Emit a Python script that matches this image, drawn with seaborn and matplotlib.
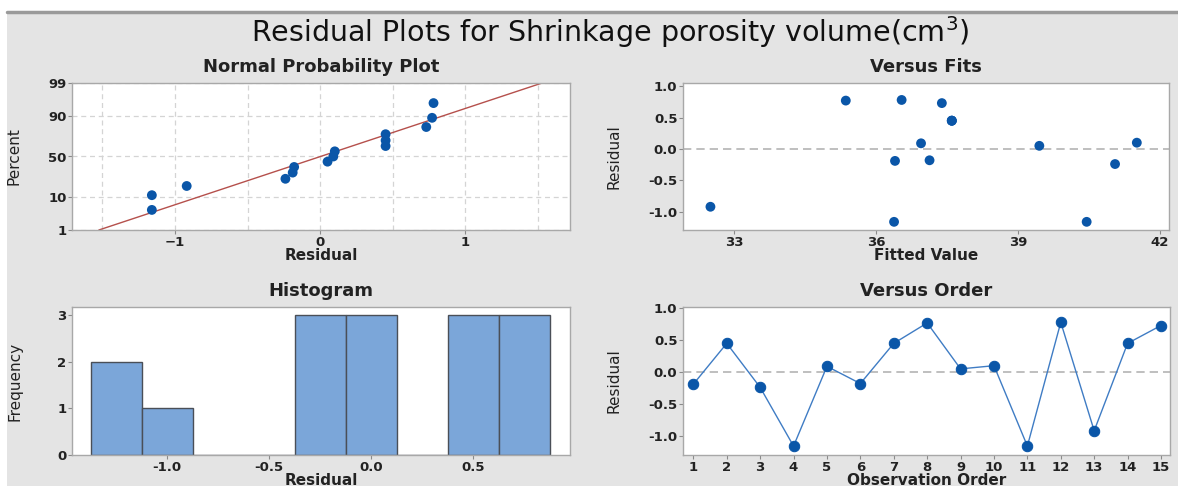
import numpy as np
import pandas as pd
import matplotlib
matplotlib.use("Agg")
import matplotlib.pyplot as plt
import seaborn as sns
from statistics import NormalDist
from matplotlib.ticker import MultipleLocator

# residuals in observation order and the matching fitted values
order = list(range(1, 16))
residual = [-0.19, 0.45, -0.24, -1.16, 0.09, -0.18, 0.45, 0.77, 0.05, 0.10,
            -1.16, 0.78, -0.92, 0.45, 0.73]
fitted = [36.40, 37.60, 41.05, 36.38, 36.95, 37.13, 37.60, 35.36, 39.45, 41.51,
          40.45, 36.54, 32.50, 37.60, 37.39]

percent_ticks = [1, 10, 50, 90, 99]
fit_ticks = [33, 36, 39, 42]
hist_ticks = [-1.0, -0.5, 0.0, 0.5]
resid_ticks = [-1.0, -0.5, 0.0, 0.5, 1.0]

df = pd.DataFrame({"order": order, "residual": residual, "fitted": fitted})

sns.set_style("white")
plt.rcParams["font.family"] = ["DejaVu Sans"]

BG = "#e4e4e4"
BLUE = "#0a56a8"
TXT = "#222222"
W, H = 1178, 486

fig = plt.figure(figsize=(W / 100, H / 100), dpi=100, facecolor=BG)

# white strip + rule at the very top (page above the screenshot)
fig.patches.append(plt.Rectangle((0, 1 - 11 / H), 1, 11 / H, transform=fig.transFigure,
                                 facecolor="white", edgecolor="none", zorder=0))
fig.patches.append(plt.Rectangle((0, 0), 7 / W, 1, transform=fig.transFigure,
                                 facecolor="white", edgecolor="none", zorder=0))
fig.lines.append(plt.Line2D([7 / W, 1], [1 - 12 / H, 1 - 12 / H], transform=fig.transFigure,
                            color="#9a9a9a", lw=2.5))

fig.text(610 / W, 1 - 32 / H, "Residual Plots for Shrinkage porosity volume(cm$^3$)",
         ha="center", va="center", fontsize=20.5, color="#111111")


def box(x0, y0, x1, y1):
    return fig.add_axes([x0 / W, 1 - y1 / H, (x1 - x0) / W, (y1 - y0) / H])


ax1 = box(72, 83, 570, 230)
ax2 = box(683, 83, 1169, 230)
ax3 = box(72, 307, 570, 455)
ax4 = box(683, 307, 1170, 455)


def style(ax, title, xlabel, ylabel):
    ax.set_facecolor("white")
    for s in ax.spines.values():
        s.set_color("#a8a8a8")
        s.set_linewidth(1.0)
    ax.set_title(title, fontsize=13, fontweight="bold", color=TXT, pad=8)
    ax.set_xlabel(xlabel, fontsize=11, fontweight="bold", color=TXT)
    ax.set_ylabel(ylabel, fontsize=11, color=TXT,
                  family=["Liberation Sans Narrow", "DejaVu Sans"])
    ax.tick_params(axis="both", which="major", length=3, width=0.8, color="#8a8a8a",
                   labelsize=9.5, labelcolor=TXT, pad=1, bottom=True, left=True)


# --- Normal probability plot ---
nd = NormalDist()
res_sorted = np.sort(np.array(residual))
n = len(res_sorted)
pct = (np.arange(1, n + 1) - 0.3) / (n + 0.4)
zq = np.array([nd.inv_cdf(p) for p in pct])
mu, sd = np.mean(residual), np.std(residual, ddof=1)
zlo, zhi = nd.inv_cdf(0.01), nd.inv_cdf(0.99)
line_z = np.array([zlo, zhi])
sns.lineplot(x=mu + sd * line_z, y=line_z, sort=False, color="#b5504c", lw=1.0, ax=ax1)
sns.scatterplot(x=res_sorted, y=zq, color=BLUE, s=50, edgecolor="none", ax=ax1, zorder=3)
ax1.set_xlim(-1.71, 1.72)
ax1.set_ylim(zlo, zhi)
ax1.set_yticks([nd.inv_cdf(p / 100) for p in percent_ticks])
ax1.set_yticklabels([str(p) for p in percent_ticks])
ax1.set_xticks([-1, 0, 1])
ax1.xaxis.set_minor_locator(MultipleLocator(0.5))
ax1.tick_params(axis="x", which="minor", length=0)
ax1.grid(True, which="both", axis="x", ls=(0, (4, 3)), color="#d4d4d4", lw=0.9)
ax1.grid(True, which="major", axis="y", ls=(0, (4, 3)), color="#d4d4d4", lw=0.9)
ax1.set_axisbelow(True)
style(ax1, "Normal Probability Plot", "Residual", "Percent")

# --- Versus fits ---
ax2.axhline(0, color="#b4b4b4", ls=(0, (5, 3)), lw=1.2, zorder=1)
sns.scatterplot(data=df, x="fitted", y="residual", color=BLUE, s=50, edgecolor="none",
                ax=ax2, zorder=3)
ax2.set_xlim(31.92, 42.19)
ax2.set_ylim(-1.29, 1.05)
ax2.set_xticks(fit_ticks)
ax2.set_yticks(resid_ticks)
ax2.set_yticklabels([f"{t:.1f}" for t in resid_ticks])
style(ax2, "Versus Fits", "Fitted Value", "Residual")

# --- Histogram ---
sns.histplot(data=df, x="residual", bins=np.arange(-1.375, 0.9, 0.25), color="#7ba6d9",
             edgecolor="#4a4f57", linewidth=1.0, alpha=1, ax=ax3)
ax3.set_xlim(-1.466, 0.975)
ax3.set_ylim(0, 3.17)
ax3.set_xticks(hist_ticks)
ax3.set_xticklabels([f"{t:.1f}" for t in hist_ticks])
ax3.set_yticks([0, 1, 2, 3])
style(ax3, "Histogram", "Residual", "Frequency")

# --- Versus order ---
ax4.axhline(0, color="#b4b4b4", ls=(0, (5, 3)), lw=1.2, zorder=1)
sns.lineplot(data=df, x="order", y="residual", color="#3f7cc4", lw=1.0, ax=ax4,
             marker="o", markersize=7.5, markerfacecolor=BLUE, markeredgecolor=BLUE, zorder=3)
ax4.set_xlim(0.69, 15.27)
ax4.set_ylim(-1.30, 1.02)
ax4.set_xticks(order)
ax4.set_yticks(resid_ticks)
ax4.set_yticklabels([f"{t:.1f}" for t in resid_ticks])
style(ax4, "Versus Order", "Observation Order", "Residual")

# label positions (pixel-based, converted to axes fractions)
for ax, x0, w, h in [(ax1, 72, 498, 147), (ax2, 683, 486, 147),
                     (ax3, 72, 498, 148), (ax4, 683, 487, 148)]:
    ylab_x = 22 if x0 < 300 else 622
    ax.yaxis.set_label_coords((ylab_x - x0) / w, 0.5)
    ax.xaxis.set_label_coords(0.5, -(25 / h))
    ax.xaxis.label.set_va("center")
    for lab in ax.get_xticklabels() + ax.get_yticklabels():
        lab.set_fontweight("bold")

fig.savefig("out.png", dpi=100, facecolor=BG)
